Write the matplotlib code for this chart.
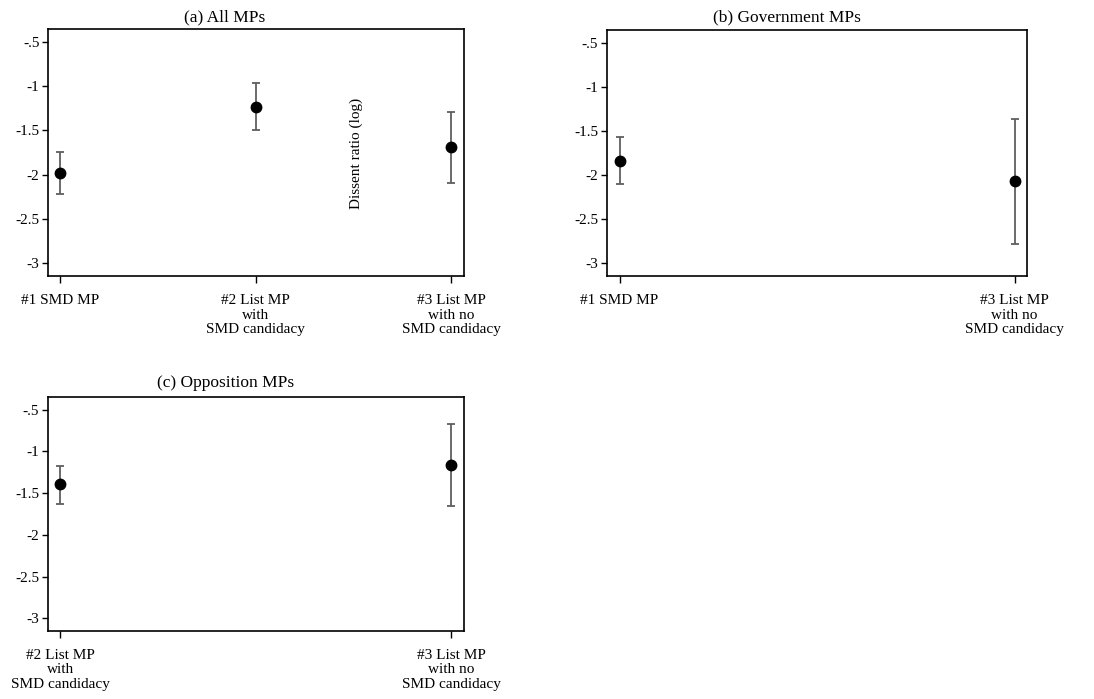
import matplotlib
matplotlib.use("Agg")
import matplotlib.pyplot as plt

plt.rcParams["font.family"] = ["Liberation Serif", "DejaVu Serif"]

# category labels
lab1 = "#1 SMD MP"
lab2 = "#2 List MP\nwith\nSMD candidacy"
lab3 = "#3 List MP\nwith no\nSMD candidacy"

# (a) All MPs
a_labels = [lab1, lab2, lab3]
a_est = [-1.98, -1.23, -1.69]
a_lo = [-2.22, -1.49, -2.10]
a_hi = [-1.74, -0.965, -1.29]

# (b) Government MPs
b_labels = [lab1, lab3]
b_est = [-1.84, -2.07]
b_lo = [-2.10, -2.79]
b_hi = [-1.57, -1.365]

# (c) Opposition MPs
c_labels = [lab2, lab3]
c_est = [-1.395, -1.16]
c_lo = [-1.625, -1.655]
c_hi = [-1.175, -0.675]

yticks = [-0.5, -1, -1.5, -2, -2.5, -3]
ytick_labels = ["-.5", "-1", "-1.5", "-2", "-2.5", "-3"]

fig = plt.figure(figsize=(10.94, 6.99), dpi=100)


def panel(rect, labels, est, lo, hi, xlim, title, title_xy):
    ax = fig.add_axes(rect)
    x = list(range(len(labels)))
    err = [[e - l for e, l in zip(est, lo)], [h - e for e, h in zip(est, hi)]]
    ax.errorbar(x, est, yerr=err, fmt="none", ecolor="#5f5f5f",
                elinewidth=1.3, capsize=3.2, capthick=1.3, zorder=2)
    ax.plot(x, est, "o", color="black", markersize=7.5, zorder=3)
    ax.set_xlim(xlim)
    ax.set_ylim(-3.15, -0.35)
    ax.set_yticks(yticks)
    ax.set_yticklabels(ytick_labels)
    ax.set_xticks(x)
    ax.set_xticklabels(labels, linespacing=1.15)
    ax.tick_params(axis="y", length=4.5, width=1.0, pad=2, labelsize=11)
    ax.tick_params(axis="x", length=5, width=1.0, pad=8, labelsize=11)
    for s in ax.spines.values():
        s.set_linewidth(1.2)
    fig.text(title_xy[0], title_xy[1], title, ha="center", va="center",
             fontsize=12.5)
    return ax


panel([0.0443, 0.6052, 0.3798, 0.3533], a_labels, a_est, a_lo, a_hi,
      (-0.06, 2.065), "(a) All MPs", (0.2057, 0.975))
panel([0.5551, 0.6052, 0.3839, 0.3518], b_labels, b_est, b_lo, b_hi,
      (-0.031, 1.032), "(b) Government MPs", (0.7194, 0.975))
panel([0.0442, 0.0977, 0.3799, 0.3339], c_labels, c_est, c_lo, c_hi,
      (-0.031, 1.032), "(c) Opposition MPs", (0.2066, 0.4516))

fig.text(0.326, 0.781, "Dissent ratio (log)", rotation=90, ha="center",
         va="center", fontsize=11)

fig.savefig("out.png", dpi=100)
